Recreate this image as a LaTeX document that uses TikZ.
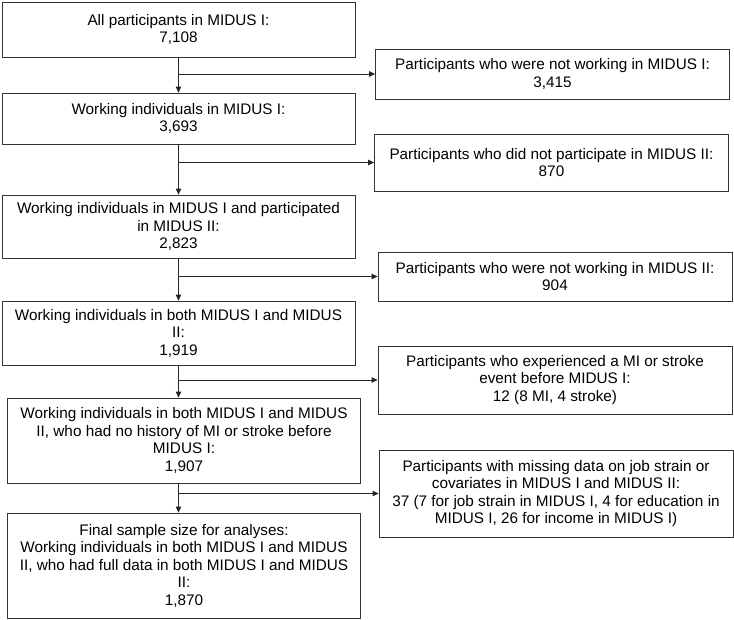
\documentclass[tikz,border=0pt]{standalone}
\usepackage{fontspec}
\setmainfont{Liberation Sans}
\usetikzlibrary{arrows.meta,positioning,calc}

\begin{document}
\begin{tikzpicture}[x=1pt, y=-1pt,
    every node/.style={font=\fontsize{15.3}{17.5}\selectfont, align=center, inner sep=0pt},
    stage/.style={draw=black!80, line width=0.8pt, minimum width=353pt},
    drop/.style={draw=black!80, line width=0.8pt, minimum width=354pt},
    arr/.style={-{Triangle[length=6pt, width=5.5pt]}, line width=0.8pt, black!85}
]
\useasboundingbox (0,0) rectangle (734,619);

% Left column — remaining sample at each step
\node[stage, minimum height=55pt] (all)   at (178.5, 29.5)  {All participants in MIDUS I:\\7,108};
\node[stage, minimum height=51pt] (work1) at (178.5, 118.5) {Working individuals in MIDUS I:\\3,693};
\node[stage, minimum height=63pt] (part2) at (178.5, 226.5) {Working individuals in MIDUS I and participated\\in MIDUS II:\\2,823};
\node[stage, minimum height=64pt] (both)  at (178.5, 333)   {Working individuals in both MIDUS I and MIDUS\\II:\\1,919};
\node[stage, minimum height=85pt] (nohx)  at (184, 440.5)   {Working individuals in both MIDUS I and MIDUS\\II, who had no history of MI or stroke before\\MIDUS I:\\1,907};
\node[stage, minimum height=105pt] (final) at (184, 565.5)  {Final sample size for analyses:\\Working individuals in both MIDUS I and MIDUS\\II, who had full data in both MIDUS I and MIDUS\\II:\\1,870};

% Right column — exclusions
\node[drop, minimum height=50pt] (xwork1) at (552.5, 74)  {Participants who were not working in MIDUS I:\\3,415};
\node[drop, minimum height=57pt] (xpart2) at (551.5, 162.5) {Participants who did not participate in MIDUS II:\\870};
\node[drop, minimum height=49pt] (xwork2) at (555, 276.5) {Participants who were not working in MIDUS II:\\904};
\node[drop, minimum height=68pt] (xhx)    at (555, 380)   {Participants who experienced a MI or stroke\\event before MIDUS I:\\12 (8 MI, 4 stroke)};
\node[drop, minimum height=87pt] (xmiss)  at (556, 493.5) {Participants with missing data on job strain or\\covariates in MIDUS I and MIDUS II:\\37 (7 for job strain in MIDUS I, 4 for education in\\MIDUS I, 26 for income in MIDUS I)};

% Arrows — down the left column
\draw[arr] (all)   -- (work1);
\draw[arr] (work1) -- (part2);
\draw[arr] (part2) -- (both);
\draw[arr] (both)  -- (both.south |- nohx.north);
\draw[arr] (nohx.south -| both) -- (final.north -| both);

% Arrows — branching off to the right
\draw[arr] (all.south |- xwork1.west)   -- (xwork1.west);
\draw[arr] (work1.south |- xpart2.west) -- (xpart2.west);
\draw[arr] (part2.south |- xwork2.west) -- (xwork2.west);
\draw[arr] (both.south |- xhx.west)     -- (xhx.west);
\draw[arr] (both.south |- xmiss.west)   -- (xmiss.west);
\end{tikzpicture}
\end{document}
